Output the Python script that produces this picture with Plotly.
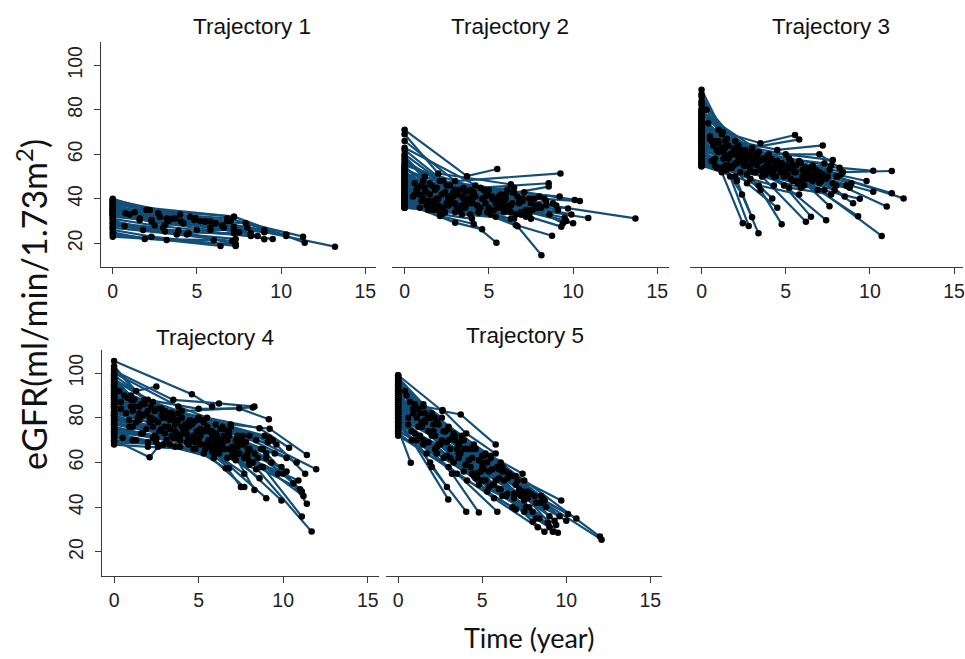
import plotly.graph_objects as go

# ---------------- data ----------------
# each inner list is one patient: visit times (years) and eGFR values
traj1_time = [
    [0, 4.9, 13.2], [0, 2.2, 7.2, 11.4], [0, 2.7, 6.8, 11.3], [0, 3.7, 7.9, 10.3],
    [0, 1.6, 4.85, 9.0], [0, 0.75, 3.2, 6.1, 9.0], [0, 2.3, 5.8, 8.6], [0, 1.6, 4.05, 8.2],
    [0, 3.1, 5.5, 7.2], [0, 2.3, 5.8, 7.2], [0, 0.7, 3.9, 8.2], [0, 3.1, 7.2],
    [0, 4.5, 7.3], [0, 1.9, 6.0], [0, 2.3, 7.3], [0, 3.2, 6.4], [0, 7.3],
    [0, 4.85, 6.8], [0, 7.2], [0, 6.1], [0, 5.5], [0, 4.0], [0, 8.2], [0, 9.0],
    [0, 5.8], [0, 3.0], [0, 7.3], [0, 10.3],
    [0, 2.0, 4.6, 7.0], [0, 1.3, 3.5, 6.5], [0, 2.8, 5.2, 8.0], [0, 1.0, 4.2, 7.5],
    [0, 3.3, 6.6], [0, 2.5, 5.0, 9.5], [0, 1.8, 4.4], [0, 3.8, 7.1],
]
traj1_egfr = [
    [39.5, 31.5, 18.5], [40, 35, 32, 20.3], [38, 33.5, 31.2, 23], [37, 31.2, 29, 23.3],
    [36, 31.2, 31.2, 26], [35, 33.5, 31.2, 29, 21.8], [34, 30.5, 29.8, 23.3], [33, 30.5, 29.8, 24.5],
    [34, 28.2, 29.8, 27.5], [33, 29.8, 26, 26], [31, 27.8, 25.7, 23.3], [30, 25.3, 24.5],
    [28, 24.5, 19.5], [25, 22, 21.4], [26, 23, 18.8], [24, 21.5, 18.8], [23, 19.5],
    [38.5, 30.5, 30], [37.5, 32], [36.5, 29], [35.5, 29.8], [39, 33], [35, 24], [32, 25],
    [32.5, 27], [29, 27], [27, 22], [34.5, 24],
    [39, 35, 32, 30], [37, 34, 31, 28], [36, 32, 30, 27], [35, 33, 29, 25],
    [33, 30, 27], [31, 28, 26, 22], [29, 26, 24], [27, 24, 21],
]

traj2_time = [
    [0, 3.7, 5.5], [0, 2.0, 6.3], [0, 3.0, 9.25], [0, 4.5, 8.55], [0, 2.5, 6.5, 8.55],
    [0, 1.5, 5.0, 9.2], [0, 3.2, 7.1, 10.1], [0, 1.0, 4.0, 10.4], [0, 2.8, 6.0, 13.7],
    [0, 1.8, 5.2, 9.7], [0, 0.8, 4.2, 7.6], [0, 2.2, 5.6, 9.5], [0, 1.2, 3.5, 10.9],
    [0, 3.8, 6.8, 9.4], [0, 2.6, 5.8, 10.0], [0, 1.4, 4.8, 9.3], [0, 2.1, 4.1, 5.45],
    [0, 3.0, 4.6], [0, 3.5, 6.7, 8.12], [0, 4.0, 6.6, 8.75], [0, 2.5, 5.5, 7.2],
    [0, 1.0, 3.0, 6.0], [0, 2.0, 4.5, 7.5], [0, 1.6, 4.4, 8.0], [0, 3.3, 5.9, 8.8],
    [0, 2.4, 5.1, 7.9], [0, 0.6, 3.9, 6.4], [0, 1.3, 2.9, 5.3], [0, 3.6, 5.7, 8.3],
    [0, 2.7, 4.9, 7.0], [0, 1.1, 4.3, 6.9], [0, 2.3, 5.0, 8.6], [0, 1.7, 3.4, 7.3],
    [0, 3.1, 6.2, 9.0], [0, 0.9, 2.6, 5.4], [0, 4.7, 6.5], [0, 1.9, 4.1, 6.7],
    [0, 3.4, 7.7], [0, 2.9, 5.6], [0, 1.4, 6.3, 8.4], [0, 4.4, 7.4],
    [0, 1.2, 3.1, 5.9, 7.8], [0, 0.7, 2.4, 4.6, 6.8], [0, 1.5, 3.7, 5.2, 7.4],
    [0, 2.0, 4.0, 6.2, 8.1], [0, 0.5, 2.8, 5.0, 7.1], [0, 1.8, 3.6, 5.5, 6.9],
    [0, 2.6, 4.4, 6.6], [0, 1.3, 3.3, 4.9, 6.3], [0, 0.9, 2.2, 4.0], [0, 3.0, 5.3, 7.5],
    [0, 1.1, 3.5, 6.0, 8.0], [0, 2.1, 4.7, 7.0], [0, 1.6, 3.0, 5.7], [0, 2.9, 4.8, 6.9, 9.1],
    [0, 0.6, 1.9, 3.8, 5.8], [0, 1.7, 4.3, 7.2, 9.6], [0, 3.2, 5.6, 8.4], [0, 2.3, 4.2, 6.1],
    [0, 1.2, 2.7], [0, 4.1, 6.4, 9.9], [0, 2.5, 5.0], [0, 1.4, 3.9, 5.4], [0, 3.6, 6.3],
    [0, 2.0, 3.4, 6.5],
]
traj2_egfr = [
    [71, 50.2, 53.4], [69, 51.4, 46.5], [66, 48, 51.4], [63, 45, 47], [60, 46, 42.7, 45.5],
    [58, 47, 44, 41], [56, 44, 43, 39.5], [55, 46, 42, 39], [54, 41, 40, 31.2],
    [52, 44, 40, 35.7], [51, 45, 41, 35], [50, 42, 38, 31.5], [49, 43, 40, 31.4],
    [48, 40, 39, 29], [47, 41, 37, 29], [46, 39, 38, 27.5], [39, 32.3, 28.7, 20.3],
    [38, 29.3, 26.3], [42, 37, 27.7, 14.7], [44, 38, 28.2, 23.4], [43, 38, 36, 32],
    [41, 39, 38, 36], [40, 37, 36, 38], [39, 36, 34, 37], [37, 35, 34, 38],
    [36.5, 34, 33, 36], [53, 47, 44, 43], [50, 43, 41, 40], [46, 43, 39, 40],
    [44, 40, 42, 39], [42, 40, 37, 34], [41, 36, 35, 33], [38, 35, 37, 35],
    [37, 36, 35, 37], [47, 42, 40, 38], [55, 44, 45], [48, 45, 43, 41],
    [45, 41, 40], [43, 42, 41], [39, 38, 37, 39], [36, 34, 33],
    [52, 45, 42, 39, 37], [49, 44, 43, 40, 38], [47, 42, 38, 41, 40],
    [45, 40, 39, 37, 36], [43, 41, 38, 35, 34], [41, 38, 40, 36, 33],
    [40, 37, 34, 33], [38, 37, 36, 34, 31], [37, 36, 33, 31], [36, 34, 35, 31],
    [54, 48, 45, 42, 41], [57, 48, 44, 40], [51, 46, 44, 42], [46, 43, 41, 39, 35],
    [44, 42, 40, 38, 36], [42, 39, 37, 35, 30], [50, 44, 40, 37], [62, 48, 46, 44],
    [59, 50, 46], [53, 42, 38, 33], [48, 38, 36], [40, 35, 33, 32], [39, 36, 34],
    [36, 35, 33, 31],
]

traj3_time = [
    [0, 1.26, 3.5, 5.55], [0, 1.2, 3.0, 5.8], [0, 2.0, 4.5, 7.2], [0, 1.5, 4.0, 7.0, 8.2],
    [0, 2.2, 5.0, 7.8], [0, 1.0, 3.6, 6.6, 10.2], [0, 2.6, 5.3, 8.4, 11.3], [0, 1.8, 4.8, 8.0, 12.0],
    [0, 3.1, 6.2, 11.3], [0, 2.4, 5.6, 10.7], [0, 1.3, 4.1, 7.4, 11.0], [0, 3.4, 6.4, 10.2],
    [0, 2.0, 5.1, 9.3], [0, 1.1, 3.9, 7.0, 8.5], [0, 2.9, 6.0, 7.6], [0, 1.6, 4.3, 7.4],
    [0, 2.5, 4.9, 6.5], [0, 3.6, 6.2], [0, 1.9, 3.5, 4.76], [0, 1.4, 2.4, 3.38],
    [0, 1.7, 2.8], [0, 1.2, 2.45], [0, 2.1, 3.0], [0, 2.7, 4.2], [0, 0.8, 3.2, 5.7],
    [0, 1.5, 4.4, 6.9], [0, 2.3, 5.4, 8.8], [0, 0.9, 3.8, 6.1, 9.4], [0, 3.0, 5.9, 8.1],
    [0, 1.4, 4.6, 6.8], [0, 2.8, 5.2, 7.3], [0, 0.7, 3.3, 6.3, 8.9], [0, 1.9, 4.7, 7.6],
    [0, 2.6, 5.5, 9.8], [0, 1.0, 3.1, 5.0], [0, 3.9, 6.7, 9.0], [0, 2.2, 4.0, 7.9],
    [0, 1.3, 3.7, 6.0], [0, 0.6, 2.9, 5.3, 8.0], [0, 1.6, 4.2, 6.6], [0, 2.0, 3.4, 5.8],
    [0, 3.5, 7.1], [0, 2.7, 4.5], [0, 5.2, 7.7], [0, 4.9, 8.6], [0, 1.1, 2.3],
    [0, 0.5, 2.0, 4.1, 6.2], [0, 1.0, 2.6, 4.8, 7.0], [0, 0.8, 2.3, 3.9, 5.6],
    [0, 1.3, 3.0, 5.3, 7.5], [0, 0.6, 1.9, 3.6, 5.4, 7.2], [0, 1.7, 3.5, 5.0, 6.6],
    [0, 0.9, 2.7, 4.4, 6.3], [0, 1.4, 3.2, 5.1, 7.0], [0, 2.1, 3.8, 5.6],
    [0, 0.7, 2.5, 4.7, 6.4], [0, 1.8, 3.6, 5.9], [0, 1.1, 2.9, 4.3],
    [0, 2.4, 4.1, 6.5, 8.3], [0, 1.6, 3.3, 5.8, 7.7], [0, 2.9, 4.6, 6.1],
    [0, 0.5, 1.5, 3.4, 5.2], [0, 2.2, 3.9, 6.9], [0, 1.2, 2.1, 4.5, 6.0],
    [0, 3.3, 5.5, 7.8], [0, 1.9, 4.0, 6.7], [0, 0.8, 2.6, 4.9], [0, 2.6, 4.3, 6.3, 8.6],
    [0, 1.4, 3.1], [0, 3.7, 5.7, 7.3], [0, 4.3, 6.8], [0, 0.3, 1.0], [0, 0.4, 1.4],
]
traj3_egfr = [
    [89, 70, 65, 68.7], [87, 69, 63, 66.7], [84, 66, 62, 64], [80, 67, 60, 60, 54],
    [78, 64, 60, 57.4], [76, 66, 58, 55, 52.6], [75, 62, 57, 52, 52.5], [74, 60, 55, 50, 40.2],
    [73, 58, 54, 42.5], [72, 59, 52, 23.3], [71, 61, 54, 49, 36.5], [70, 57, 51, 43.2],
    [69, 56, 53, 32.2], [68, 62, 57, 50, 41], [67, 55, 48, 36.7], [66, 58, 50, 30.4],
    [65, 56, 46, 32], [64, 50, 29.7], [63, 55, 44, 28.6], [62, 54, 42, 24.5],
    [61, 50, 27.8], [60, 52, 29], [59, 48, 31.7], [58, 51, 40.2], [57, 55, 52, 47],
    [56, 53, 50, 44], [55, 52, 48, 45], [54.5, 54, 51, 46, 40], [79, 62, 56, 50],
    [77, 63, 55, 52], [74, 60, 58, 56], [72, 64, 58, 52, 47], [70, 60, 56, 53],
    [68, 57, 55, 48], [66, 61, 57, 55], [64, 55, 50, 38], [62, 57, 53, 44],
    [60, 58, 54, 50], [58, 57, 53, 49, 46], [56, 55, 51, 48], [55, 50, 46, 42],
    [75, 53, 48], [71, 47, 36], [69, 45, 42], [67, 50, 46], [82, 62, 58],
    [78, 68, 63, 58, 54], [76, 65, 60, 56, 52], [74, 66, 61, 59, 55],
    [72, 63, 59, 54, 50], [70, 66, 62, 58, 55, 51], [68, 60, 57, 53, 49],
    [66, 62, 58, 55, 52], [64, 59, 56, 51, 47], [62, 56, 52, 48],
    [60, 57, 55, 52, 50], [58, 54, 50, 45], [56, 54, 49, 46],
    [80, 62, 58, 54, 51], [77, 64, 60, 57, 55], [73, 58, 54, 51],
    [71, 67, 64, 61, 58], [69, 58, 55, 49], [67, 63, 60, 57, 53],
    [65, 55, 52, 47], [63, 60, 56, 53], [61, 58, 55, 51], [59, 55, 53, 49, 46],
    [57, 55, 52], [55, 52, 48, 44], [79, 57, 53], [86, 80, 71], [83, 74, 66],
]

traj4_time = [
    [0, 4.6, 5.8], [0, 1.3, 2.5], [0, 3.5, 6.2, 8.3], [0, 2.0, 5.0, 7.4, 9.15],
    [0, 1.5, 4.0, 8.2], [0, 2.8, 5.5, 8.6, 10.35], [0, 1.0, 3.8, 6.9, 9.2, 11.4],
    [0, 2.4, 5.2, 8.0, 11.95], [0, 3.2, 6.4, 9.2, 11.3], [0, 1.8, 4.5, 7.6, 10.6],
    [0, 2.9, 6.0, 9.0, 11.1], [0, 1.2, 4.2, 7.3, 11.2], [0, 3.6, 6.7, 9.9, 11.4],
    [0, 2.2, 5.8, 8.8, 11.1], [0, 1.7, 4.9, 7.9, 11.68], [0, 3.0, 6.1, 9.9],
    [0, 2.6, 5.4, 9.0], [0, 4.1, 7.0, 8.3], [0, 1.4, 4.6, 7.7], [0, 3.3, 5.9, 7.5],
    [0, 2.1, 5.1, 6.8], [0, 0.9, 3.7, 6.6], [0, 2.1, 2.6, 5.0], [0, 1.9, 4.3, 7.1],
    [0, 2.7, 5.6, 8.5], [0, 1.1, 3.9, 6.3], [0, 3.4, 6.5, 9.3], [0, 2.3, 4.8, 7.8],
    [0, 1.6, 4.4, 7.2], [0, 3.1, 5.7, 8.7], [0, 2.5, 5.3, 8.1], [0, 1.3, 3.6, 6.2],
    [0, 0.5, 2.9, 5.9], [0, 2.0, 4.7, 7.0], [0, 3.8, 6.9, 9.6], [0, 2.3, 5.0, 8.9],
    [0, 4.4, 7.6, 10.8], [0, 3.5, 6.6, 10.2], [0, 2.9, 6.3, 9.4], [0, 5.0, 8.0],
    [0, 1.5, 3.3, 5.5], [0, 4.0, 7.4, 10.0], [0, 3.0, 5.8, 8.4], [0, 4.8, 7.7],
    [0, 2.8, 6.1, 9.1], [0, 3.9, 7.1], [0, 4.7, 7.3, 10.9], [0, 5.6, 8.0, 11.0],
    [0, 6.1, 8.6], [0, 0.4, 1.1],
    [0, 0.6, 2.2, 4.0, 6.0], [0, 1.2, 3.0, 4.9, 6.8], [0, 0.8, 2.6, 4.5, 6.5, 8.4],
    [0, 1.6, 3.4, 5.3, 7.3], [0, 0.4, 2.0, 3.8, 5.8, 7.8], [0, 1.0, 2.8, 4.6, 6.6],
    [0, 1.9, 3.7, 5.6, 7.6], [0, 0.7, 2.4, 4.2, 6.1], [0, 1.5, 3.2, 5.1, 7.0],
    [0, 2.3, 4.1, 6.0, 7.9], [0, 0.9, 2.7, 4.4, 6.4], [0, 1.7, 3.5, 5.4, 7.4],
    [0, 2.5, 4.3, 6.2, 8.2], [0, 1.1, 2.9, 4.8, 6.7], [0, 2.0, 3.9, 5.9, 8.0],
    [0, 3.4, 5.5, 7.5, 9.5], [0, 2.7, 4.7, 6.8, 8.8], [0, 3.1, 5.1, 7.2, 9.0],
    [0, 2.1, 4.4, 6.3, 8.3], [0, 1.3, 3.6, 5.7, 7.7], [0, 3.7, 6.0, 8.1],
    [0, 2.4, 4.5, 6.4], [0, 1.8, 4.0, 6.5, 8.7], [0, 0.3, 1.0], [0, 5.3, 7.9, 10.2],
    [0, 4.2, 6.8, 9.7], [0, 3.3, 5.4, 7.3],
]
traj4_egfr = [
    [105.4, 90.5, 85], [103, 92, 94], [101, 88, 86.4, 85], [99, 88, 84, 84.2, 79.3],
    [98, 85, 83, 84.6], [97, 84, 80, 75.3, 66.6], [96, 90, 82, 77, 75.1, 63.4],
    [95, 83, 79, 72, 57], [94, 82, 76, 71.1, 55], [93, 86, 78, 70, 50.7],
    [92, 80, 73, 64, 47], [91, 85, 77, 67, 45], [90, 77, 70, 58, 41.5],
    [89, 80, 72, 58, 35.8], [88, 81, 74, 62, 29.1], [87, 76, 70, 43],
    [86, 78, 68, 44], [85, 74, 65, 47.7], [84, 80, 70, 49], [83, 75, 66, 49],
    [82, 78, 68, 57.4], [81, 79, 71, 57.4], [70, 62.3, 67, 70], [80, 75, 73, 67],
    [79, 74, 70, 62], [78, 76, 72, 70], [77, 72, 66, 60], [76, 71, 69, 63],
    [75, 73, 68, 61], [74, 70, 67, 58], [73, 69, 64, 60], [72, 70, 67, 64],
    [71, 71, 68, 62], [68, 67, 66, 63], [100, 85, 76, 68], [97, 87, 80, 72],
    [92, 78, 72, 60], [90, 80, 72, 62], [88, 83, 75, 70], [86, 74, 66],
    [85, 82, 79, 76], [83, 76, 69, 55], [81, 73, 65, 57], [79, 70, 55],
    [77, 75, 72, 69], [75, 70, 62], [95, 72, 64, 52], [94, 70, 60, 48],
    [89, 67, 53], [99, 84, 83],
    [98, 90, 85, 80, 77], [96, 88, 83, 79, 74], [94, 89, 84, 79, 75, 70],
    [92, 86, 82, 78, 72], [90, 87, 83, 79, 74, 69], [88, 85, 81, 77, 72],
    [86, 82, 78, 74, 68], [84, 82, 79, 75, 71], [82, 79, 76, 72, 67],
    [80, 76, 73, 70, 64], [78, 76, 74, 71, 68], [76, 73, 71, 68, 64],
    [74, 71, 69, 66, 60], [72, 70, 68, 66, 62], [70, 69, 67, 64, 59],
    [97, 82, 76, 70, 64], [93, 84, 78, 72, 66], [89, 80, 75, 70, 62],
    [85, 80, 76, 70, 64], [81, 78, 74, 68, 62], [79, 73, 68, 60],
    [73, 72, 70, 66], [102, 88, 80, 72, 66], [100, 92, 88], [91, 74, 66, 56],
    [87, 74, 66, 55], [69, 68, 66, 64],
]

traj5_time = [
    [0, 2.63, 3.72, 5.8], [0, 1.5, 2.64, 4.05, 5.8], [0, 2.0, 4.5, 7.5, 12.0],
    [0, 1.8, 4.2, 7.0, 12.1], [0, 3.0, 5.5, 7.4], [0, 2.4, 5.0, 8.1, 10.6],
    [0, 1.2, 3.8, 6.6, 9.7], [0, 2.8, 5.9, 8.7, 10.1], [0, 1.6, 4.4, 7.2, 9.5],
    [0, 0.9, 3.4, 6.3, 9.2], [0, 2.2, 4.9, 8.0], [0, 1.4, 3.6, 6.0, 8.7],
    [0, 2.6, 5.2, 7.8], [0, 1.1, 3.1, 5.6, 8.4], [0, 0.75], [0, 2.98], [0, 2.0, 4.05],
    [0, 3.2, 4.8], [0, 1.9, 2.9], [0, 2.5, 5.3, 7.0], [0, 3.5, 5.9], [0, 1.0, 2.2, 4.3],
    [0, 0.6, 1.8, 3.3], [0, 1.3, 2.7, 5.0], [0, 0.8, 2.3, 4.6, 6.9], [0, 1.5, 3.9, 6.2, 8.9],
    [0, 1.7, 4.1, 6.8], [0, 3.0, 5.7, 8.3], [0, 2.1, 4.7, 7.5, 9.0], [0, 3.3, 6.4, 8.5],
    [0, 4.0, 6.1, 8.7], [0, 2.9, 5.4, 8.2], [0, 1.4, 4.6, 6.5, 9.4], [0, 2.3, 4.5, 6.0],
    [0, 3.6, 7.7, 10.0], [0, 4.4, 6.9], [0, 5.1, 7.3], [0, 4.8, 7.6],
    [0, 0.5, 1.6, 3.0, 4.6, 6.2], [0, 1.0, 2.3, 3.9, 5.5, 7.1],
    [0, 0.7, 1.9, 3.4, 5.1, 6.8, 8.5], [0, 1.3, 2.8, 4.3, 6.0, 7.7],
    [0, 0.9, 2.1, 3.6, 5.3, 7.0, 8.8], [0, 1.6, 3.2, 4.8, 6.5, 8.2],
    [0, 0.6, 1.8, 3.5, 5.0], [0, 1.2, 2.6, 4.2, 5.8, 7.5], [0, 2.0, 3.7, 5.4, 7.2, 9.0],
    [0, 0.8, 2.4, 4.0, 5.7], [0, 1.5, 3.1, 4.7, 6.4, 8.0], [0, 1.1, 2.9, 4.5, 6.1],
    [0, 2.2, 3.8, 5.2, 7.0, 8.6], [0, 1.9, 3.3, 5.0, 6.6], [0, 2.7, 4.4, 6.2, 7.9, 9.6],
    [0, 1.4, 3.0, 5.6, 7.4], [0, 0.4, 1.5, 2.6], [0, 3.9, 5.6, 7.6, 9.3],
]
traj5_egfr = [
    [99, 83, 81.5, 68], [97, 85, 83.5, 73, 64], [98, 82, 68, 52, 26.9],
    [96, 80, 66, 50, 25.5], [95, 76, 63, 55], [94, 77, 60, 45, 35],
    [93, 84, 70, 55, 43], [92, 74, 58, 43, 37], [91, 78, 62, 48, 28.6],
    [90, 82, 70, 52, 29], [89, 72, 56, 33.5], [88, 76, 64, 48, 29],
    [87, 70, 52, 40], [86, 80, 66, 50, 35], [75, 59.9], [80, 43.5], [84, 58, 38],
    [82, 55, 37.6], [78, 60, 49], [85, 68, 47, 39], [76, 55, 38], [83, 73, 66, 58],
    [81, 77, 69, 60], [79, 72, 62, 52], [77, 70, 64, 53, 44], [74, 68, 56, 45, 33],
    [73, 64, 52, 40], [72, 58, 44, 31], [90, 74, 55, 38, 31], [94, 71, 56, 42],
    [92, 66, 60, 43], [86, 69, 49, 35], [83, 76, 55, 46, 32], [80, 67, 54, 53],
    [88, 62, 44, 34], [78, 55, 46], [96, 57, 45], [91, 50, 40],
    [98, 90, 82, 75, 66, 58], [95, 86, 78, 70, 62, 52],
    [93, 87, 80, 72, 63, 54, 45], [90, 82, 74, 66, 57, 47],
    [88, 84, 77, 68, 60, 50, 40], [86, 79, 71, 61, 53, 42],
    [84, 80, 74, 66, 58], [82, 76, 69, 61, 52, 43], [80, 72, 64, 56, 46, 36],
    [78, 74, 68, 59, 50], [76, 70, 62, 53, 45, 38], [74, 70, 63, 55, 48],
    [97, 80, 72, 64, 54, 44], [92, 80, 73, 63, 55], [89, 74, 66, 56, 46, 36],
    [85, 78, 70, 57, 47], [99, 92, 86, 80], [87, 66, 57, 46, 34],
]

panel_titles = ["Trajectory 1", "Trajectory 2", "Trajectory 3", "Trajectory 4", "Trajectory 5"]
x_ticks = [0, 5, 10, 15]
y_ticks = [20, 40, 60, 80, 100]
x_title = "Time (year)"
y_title = "eGFR(ml/min/1.73m<sup>2</sup>)"

# ---------------- styling / layout ----------------
LINE_COLOR = "#124f78"
AXIS_COLOR = "#3a3a3a"
TICK_FONT = dict(family="Liberation Sans, Arial, sans-serif", size=19.5, color="#222")

panels = [
    (traj1_time, traj1_egfr),
    (traj2_time, traj2_egfr),
    (traj3_time, traj3_egfr),
    (traj4_time, traj4_egfr),
    (traj5_time, traj5_egfr),
]

x_domains = [[0.1047, 0.3907], [0.4073, 0.6943], [0.7168, 1.0], [0.106, 0.394], [0.4007, 0.6874]]
x_ranges = [[-0.71, 15.65], [-0.735, 15.67], [-0.67, 15.53], [-0.71, 15.69], [-0.73, 15.69]]
y_domains = [[0.5948, 0.9363]] * 3 + [[0.126, 0.4689]] * 2
y_ranges = [[9.35, 110.5]] * 3 + [[9.27, 110.3]] * 2
show_y = [True, False, False, True, False]

fig = go.Figure()


def flatten(times, values):
    xs, ys = [], []
    for t, v in zip(times, values):
        xs += list(t) + [None]
        ys += list(v) + [None]
    return xs, ys


for i, (times, values) in enumerate(panels):
    xs, ys = flatten(times, values)
    sfx = "" if i == 0 else str(i + 1)
    fig.add_trace(go.Scatter(
        x=xs, y=ys, mode="lines+markers", connectgaps=False,
        line=dict(color=LINE_COLOR, width=2.2),
        marker=dict(color="black", size=6.5),
        xaxis="x" + sfx, yaxis="y" + sfx, showlegend=False, hoverinfo="skip",
    ))

layout = dict(
    width=965, height=659,
    margin=dict(l=0, r=0, t=0, b=0),
    paper_bgcolor="white", plot_bgcolor="white",
    showlegend=False,
)

for i in range(5):
    sfx = "" if i == 0 else str(i + 1)
    layout["xaxis" + sfx] = dict(
        domain=x_domains[i], range=x_ranges[i], anchor="y" + sfx,
        tickmode="array", tickvals=x_ticks, ticktext=[str(v) for v in x_ticks],
        ticks="outside", ticklen=6, tickwidth=1.2, tickcolor=AXIS_COLOR,
        showline=True, linecolor=AXIS_COLOR, linewidth=1.3,
        showgrid=False, zeroline=False, tickfont=TICK_FONT,
        ticklabeloverflow="allow",
    )
    layout["yaxis" + sfx] = dict(
        domain=y_domains[i], range=y_ranges[i], anchor="x" + sfx,
        tickmode="array", tickvals=y_ticks, ticktext=[str(v) for v in y_ticks],
        ticks="outside" if show_y[i] else "", ticklen=6, tickwidth=1.2, tickcolor=AXIS_COLOR,
        showline=show_y[i], linecolor=AXIS_COLOR, linewidth=1.3,
        showticklabels=show_y[i], tickangle=-90, ticklabelstandoff=4,
        showgrid=False, zeroline=False, tickfont=TICK_FONT,
    )

fig.update_layout(**layout)

title_pos = [(253, 27), (511, 27), (833, 27), (215, 337), (526, 335)]
for (px, py), txt in zip(title_pos, panel_titles):
    fig.add_annotation(
        x=px / 965, y=1 - py / 659, xref="paper", yref="paper",
        text=txt, showarrow=False, xanchor="center", yanchor="middle",
        font=dict(family="Liberation Sans, Arial, sans-serif", size=22.5, color="#111"),
    )

fig.add_annotation(
    x=530 / 965, y=1 - 637 / 659, xref="paper", yref="paper",
    text=x_title, showarrow=False, xanchor="center", yanchor="middle",
    font=dict(family="Lato, Open Sans, sans-serif", size=27, color="#111"),
)
fig.add_annotation(
    x=32 / 965, y=1 - 304 / 659, xref="paper", yref="paper",
    text=y_title, showarrow=False, xanchor="center", yanchor="middle", textangle=-90,
    font=dict(family="Lato, Open Sans, sans-serif", size=34, color="#111"),
)

fig.write_html(
    "out.html",
    config={"displayModeBar": False},
    post_script="document.body.style.margin='0';document.body.style.overflow='hidden';",
)
